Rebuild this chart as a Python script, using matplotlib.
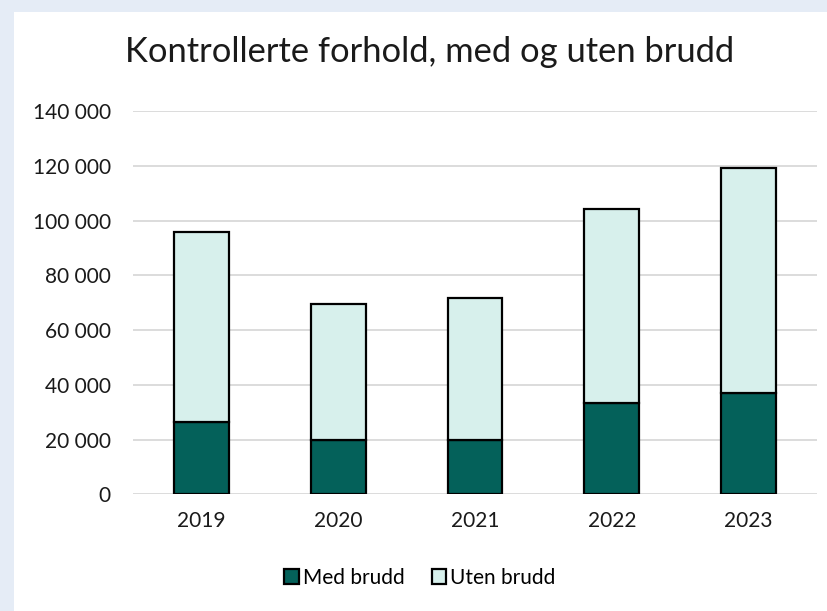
import numpy as np
import matplotlib.pyplot as plt
from matplotlib.ticker import FuncFormatter
from matplotlib.patches import Rectangle

plt.rcParams['font.family'] = ['Lato', 'DejaVu Sans']

aar = ['2019', '2020', '2021', '2022', '2023']
med_brudd = [26300, 19700, 19800, 33400, 37000]
uten_brudd = [69500, 50000, 51900, 71000, 82200]

mork = '#04615a'
lys = '#d7f0ec'

fig = plt.figure(figsize=(8.27, 6.11), dpi=100)
fig.patch.set_facecolor('#e5ecf6')
# hvit flate (kartomraade)
fig.patches.append(Rectangle((14 / 827, 0), 1, 1 - 12 / 611, transform=fig.transFigure,
                             facecolor='white', edgecolor='none', zorder=-10))

ax = fig.add_axes([133 / 827, 1 - 494.3 / 611, (817 - 133) / 827, (494.3 - 111.3) / 611])
ax.set_facecolor('none')
ax.set_zorder(2)

x = np.arange(len(aar))
b = 0.40
ax.bar(x, med_brudd, b, color=mork, edgecolor='black', linewidth=1.6, label='Med brudd', zorder=3)
ax.bar(x, uten_brudd, b, bottom=med_brudd, color=lys, edgecolor='black', linewidth=1.6,
       label='Uten brudd', zorder=3)

ax.set_xlim(-0.5, 4.5)
ax.set_ylim(0, 140000)
ax.set_yticks(np.arange(0, 140001, 20000))
ax.yaxis.set_major_formatter(FuncFormatter(lambda v, p: f'{int(v):,}'.replace(',', ' ')))
ax.set_xticks(x)
ax.set_xticklabels(aar)
ax.grid(axis='y', color='#d9d9d9', linewidth=1.3, zorder=0)
for s in ax.spines.values():
    s.set_visible(False)
ax.tick_params(length=0, labelsize=15, colors='#1a1a1a')
ax.tick_params(axis='y', pad=16)
ax.tick_params(axis='x', pad=12)

fig.text(430 / 827, 1 - 52 / 611, 'Kontrollerte forhold, med og uten brudd',
         ha='center', va='center', fontsize=24.8, color='#1a1a1a')

fig.legend(loc='center', bbox_to_anchor=(420 / 827, 1 - 578 / 611), ncol=2, frameon=False,
           fontsize=15, handlelength=0.7, handleheight=0.7, handletextpad=0.2,
           columnspacing=1.3)

fig.savefig('out.png', dpi=100, facecolor=fig.get_facecolor())
